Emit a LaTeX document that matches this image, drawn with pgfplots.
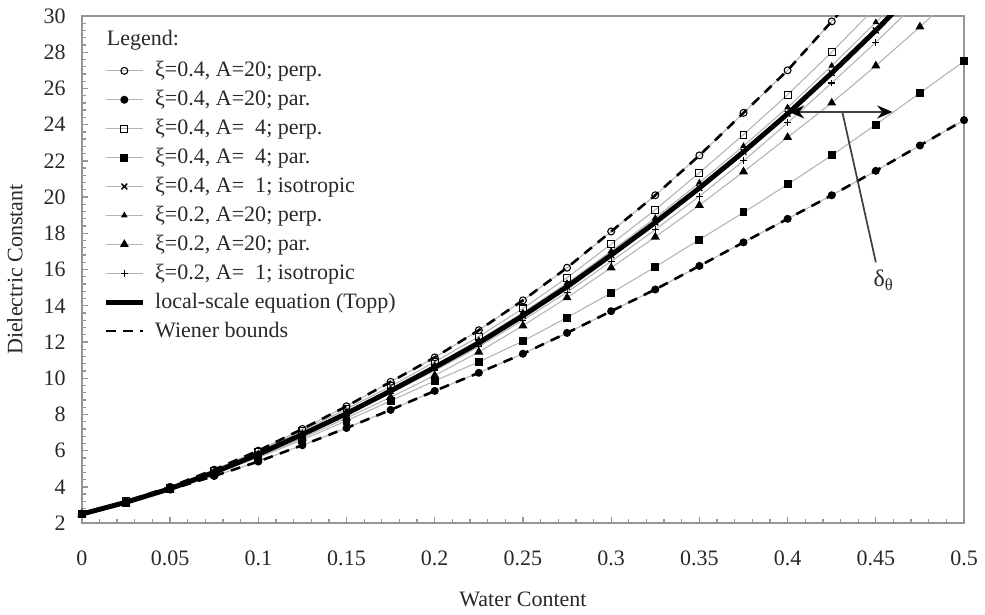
\documentclass[border=0pt]{standalone}
\usepackage{fontspec}
\setmainfont{Liberation Serif}
\usepackage{pgfplots}
\pgfplotsset{compat=1.18}
\usetikzlibrary{arrows.meta}

\definecolor{axgray}{RGB}{150,150,150}
\definecolor{sergray}{RGB}{180,180,180}
\definecolor{txt}{RGB}{40,40,40}

\pgfplotsset{
  ser/.style={color=sergray, line width=0.5pt, mark size=1.6pt},
  openm/.style={mark options={draw=black, fill=white, solid, line width=0.5pt}},
  fillm/.style={mark options={draw=black, fill=black, solid, line width=0.5pt}},
  topp/.style={black, line width=2.3pt},
  wiener/.style={black, line width=1.2pt, dash pattern=on 4.5pt off 3.5pt},
}

\begin{document}
\begin{tikzpicture}
\begin{axis}[
  scale only axis,
  width=408.8pt, height=235pt,
  xmin=0, xmax=0.5, ymin=2, ymax=30,
  xtick={0,0.05,0.1,0.15,0.2,0.25,0.3,0.35,0.4,0.45,0.5},
  xticklabels={0,0.05,0.1,0.15,0.2,0.25,0.3,0.35,0.4,0.45,0.5},
  scaled x ticks=false,
  ytick={2,4,...,30},
  minor x tick num=4, minor y tick num=4,
  tick pos=left, tick align=inside,
  major tick length=3pt, minor tick length=1.8pt,
  axis line style={axgray, line width=0.8pt},
  tick style={axgray, line width=0.6pt},
  /pgf/number format/assume math mode=true,
  tick label style={font=\fontsize{10.2}{12}\selectfont, text=txt},
  xticklabel style={yshift=-9.5pt},
  yticklabel style={xshift=-4pt},
  xlabel={Water Content}, ylabel={Dielectric Constant},
  label style={font=\fontsize{10.2}{12}\selectfont, text=txt},
  xlabel style={at={(axis description cs:0.5,0)}, anchor=center, yshift=-35.5pt},
  ylabel style={at={(axis description cs:0,0.5)}, anchor=center, yshift=31pt},
  legend style={draw=none, fill=none, inner sep=0pt,
    at={(axis description cs:0.024,0.915)}, anchor=north west,
    font=\fontsize{10.2}{12}\selectfont, text=txt,
    nodes={inner sep=0pt, text height=8pt, text depth=2.5pt},
    row sep=2.9pt, column sep=4.6pt},
  legend cell align=left,
]

% xi=0.4, A=20, perp. (open circles)
\addplot[forget plot, ser, mark=o, openm] coordinates {
(0,2.50) (0.025,3.20) (0.05,4.00) (0.075,4.95) (0.1,6.00) (0.125,7.20) (0.15,8.45)
(0.175,9.80) (0.2,11.15) (0.225,12.65) (0.25,14.30) (0.275,16.10) (0.3,18.10)
(0.325,20.10) (0.35,22.30) (0.375,24.65) (0.4,27.00) (0.425,29.70) (0.45,32.40)};

% xi=0.4, A=20, par. (filled circles)
\addplot[forget plot, ser, mark=*, fillm] coordinates {
(0,2.50) (0.025,3.15) (0.05,3.85) (0.075,4.60) (0.1,5.40) (0.125,6.30) (0.15,7.25)
(0.175,8.25) (0.2,9.30) (0.225,10.30) (0.25,11.35) (0.275,12.50) (0.3,13.70)
(0.325,14.90) (0.35,16.20) (0.375,17.50) (0.4,18.80) (0.425,20.10) (0.45,21.45)
(0.475,22.85) (0.5,24.25)};

% xi=0.4, A=4, perp. (open squares)
\addplot[forget plot, ser, mark=square, openm] coordinates {
(0,2.50) (0.025,3.20) (0.05,3.95) (0.075,4.90) (0.1,5.95) (0.125,7.10) (0.15,8.30)
(0.175,9.55) (0.2,10.90) (0.225,12.30) (0.25,13.85) (0.275,15.55) (0.3,17.40)
(0.325,19.30) (0.35,21.35) (0.375,23.45) (0.4,25.65) (0.425,28.00) (0.45,30.50)};

% xi=0.4, A=4, par. (filled squares)
\addplot[forget plot, ser, mark=square*, fillm] coordinates {
(0,2.50) (0.025,3.12) (0.05,3.86) (0.075,4.72) (0.1,5.62) (0.125,6.60) (0.15,7.65)
(0.175,8.75) (0.2,9.85) (0.225,10.90) (0.25,12.05) (0.275,13.35) (0.3,14.70)
(0.325,16.15) (0.35,17.65) (0.375,19.15) (0.4,20.70) (0.425,22.30) (0.45,24.00)
(0.475,25.75) (0.5,27.50)};

% xi=0.2, A=20, perp. (small triangles)
\addplot[forget plot, ser, mark=triangle*, fillm, mark size=1.3pt] coordinates {
(0,2.50) (0.025,3.16) (0.05,3.92) (0.075,4.83) (0.1,5.85) (0.125,6.97) (0.15,8.13)
(0.175,9.40) (0.2,10.72) (0.225,12.10) (0.25,13.62) (0.275,15.25) (0.3,17.02)
(0.325,18.85) (0.35,20.80) (0.375,22.82) (0.4,24.95) (0.425,27.25) (0.45,29.65)
(0.475,32.10)};

% xi=0.2, A=20, par. (filled triangles)
\addplot[forget plot, ser, mark=triangle*, fillm, mark size=1.9pt] coordinates {
(0,2.50) (0.025,3.12) (0.05,3.86) (0.075,4.72) (0.1,5.65) (0.125,6.70) (0.15,7.80)
(0.175,8.95) (0.2,10.15) (0.225,11.45) (0.25,12.90) (0.275,14.45) (0.3,16.10)
(0.325,17.80) (0.35,19.55) (0.375,21.40) (0.4,23.30) (0.425,25.20) (0.45,27.25)
(0.475,29.40) (0.5,31.60)};

% xi=0.2, A=1, isotropic (plus)
\addplot[forget plot, ser, mark=+, fillm] coordinates {
(0,2.50) (0.025,3.14) (0.05,3.88) (0.075,4.77) (0.1,5.74) (0.125,6.83) (0.15,7.96)
(0.175,9.17) (0.2,10.42) (0.225,11.74) (0.25,13.20) (0.275,14.75) (0.3,16.45)
(0.325,18.20) (0.35,20.05) (0.375,22.00) (0.4,24.10) (0.425,26.30) (0.45,28.55)
(0.475,30.90)};

% Wiener bounds
\addplot[forget plot, wiener] coordinates {
(0,2.50) (0.025,3.20) (0.05,4.00) (0.075,4.95) (0.1,6.00) (0.125,7.20) (0.15,8.45)
(0.175,9.80) (0.2,11.15) (0.225,12.65) (0.25,14.30) (0.275,16.10) (0.3,18.10)
(0.325,20.10) (0.35,22.30) (0.375,24.65) (0.4,27.00) (0.425,29.70) (0.45,32.40)};
\addplot[forget plot, wiener] coordinates {
(0,2.50) (0.025,3.15) (0.05,3.85) (0.075,4.60) (0.1,5.40) (0.125,6.30) (0.15,7.25)
(0.175,8.25) (0.2,9.30) (0.225,10.30) (0.25,11.35) (0.275,12.50) (0.3,13.70)
(0.325,14.90) (0.35,16.20) (0.375,17.50) (0.4,18.80) (0.425,20.10) (0.45,21.45)
(0.475,22.85) (0.5,24.25)};

% local-scale equation (Topp)
\addplot[forget plot, topp] coordinates {
(0,2.50) (0.025,3.15) (0.05,3.90) (0.075,4.80) (0.1,5.80) (0.125,6.90) (0.15,8.05)
(0.175,9.30) (0.2,10.60) (0.225,11.95) (0.25,13.45) (0.275,15.05) (0.3,16.80)
(0.325,18.60) (0.35,20.50) (0.375,22.50) (0.4,24.60) (0.425,26.85) (0.45,29.20)
(0.475,31.65)};

% xi=0.4, A=1, isotropic (x marks on the Topp curve)
\addplot[forget plot, only marks, mark=x, mark size=1.9pt, mark options={black, line width=0.6pt}] coordinates {
(0,2.50) (0.025,3.15) (0.05,3.90) (0.075,4.80) (0.1,5.80) (0.125,6.90) (0.15,8.05)
(0.175,9.30) (0.2,10.60) (0.225,11.95) (0.25,13.45) (0.275,15.05) (0.3,16.80)
(0.325,18.60) (0.35,20.50) (0.375,22.50) (0.4,24.60) (0.425,26.85) (0.45,29.20)
(0.475,31.65)};

% legend
\addlegendimage{ser, mark=o, openm}
\addlegendentry{ξ=0.4, A=20; perp.}
\addlegendimage{ser, mark=*, fillm}
\addlegendentry{ξ=0.4, A=20; par.}
\addlegendimage{ser, mark=square, openm}
\addlegendentry{ξ=0.4, A=\phantom{2}4; perp.}
\addlegendimage{ser, mark=square*, fillm}
\addlegendentry{ξ=0.4, A=\phantom{2}4; par.}
\addlegendimage{ser, mark=x, mark size=1.9pt, mark options={black, line width=0.6pt}}
\addlegendentry{ξ=0.4, A=\phantom{2}1; isotropic}
\addlegendimage{ser, mark=triangle*, fillm, mark size=1.3pt}
\addlegendentry{ξ=0.2, A=20; perp.}
\addlegendimage{ser, mark=triangle*, fillm, mark size=1.9pt}
\addlegendentry{ξ=0.2, A=20; par.}
\addlegendimage{ser, mark=+, fillm}
\addlegendentry{ξ=0.2, A=\phantom{2}1; isotropic}
\addlegendimage{topp}
\addlegendentry{local-scale equation (Topp)}
\addlegendimage{wiener}
\addlegendentry{Wiener bounds}

\node[anchor=west, text=txt, font=\fontsize{10.2}{12}\selectfont, inner sep=0pt]
  at (axis description cs:0.028,0.953) {Legend:};

% delta-theta annotation
\draw[black!75, line width=0.9pt, {Stealth[length=7pt,width=6pt,black]}-{Stealth[length=7pt,width=6pt,black]}]
  (axis cs:0.4008,24.7) -- (axis cs:0.4594,24.7);
\draw[black!75, line width=0.8pt] (axis cs:0.431,24.7) -- (axis cs:0.450,16.4);
\node[text=txt, font=\fontsize{11}{12}\selectfont] at (axis cs:0.4545,15.4) {δ\textsubscript{θ}};
\end{axis}
\path ([xshift=-37.8pt,yshift=-40.1pt]current axis.south west)
  rectangle ([xshift=7.4pt,yshift=7.4pt]current axis.north east);
\end{tikzpicture}
\end{document}
